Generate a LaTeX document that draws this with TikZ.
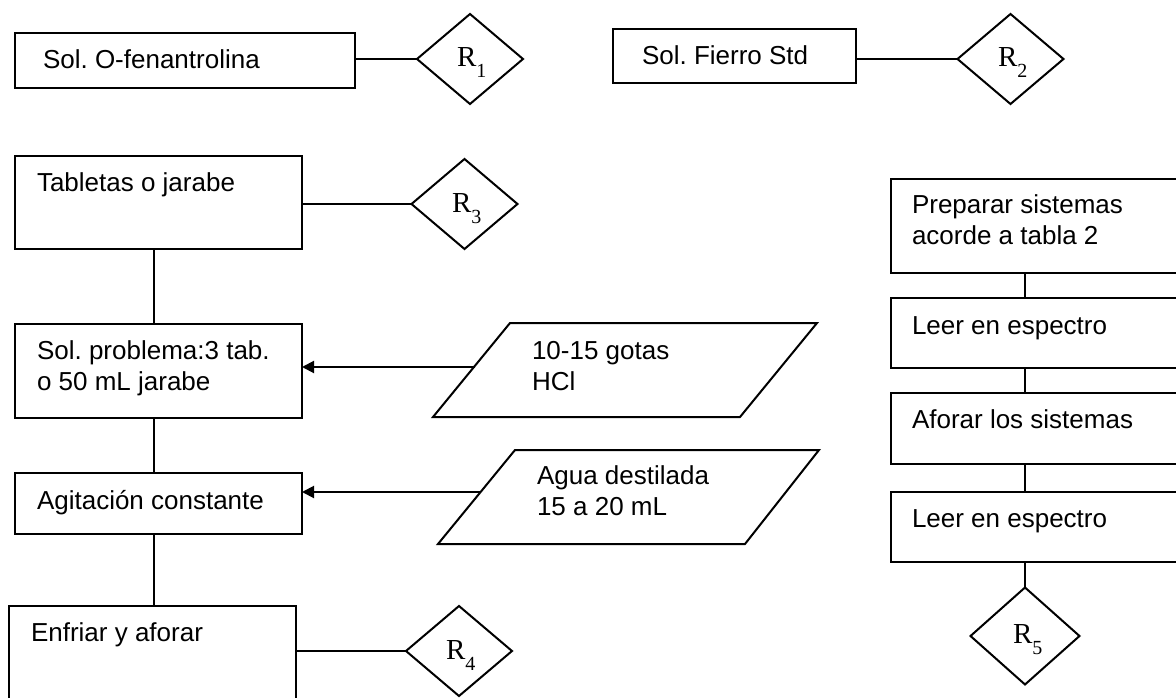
\documentclass[tikz,border=0pt]{standalone}
\usepackage{fontspec}
\setmainfont{Liberation Sans}
\newfontfamily\serifR{Liberation Serif}
\usetikzlibrary{shapes.geometric,arrows.meta}
\frenchspacing

% result marker: serif R with a lowered index
\newcommand\resmark[1]{{\serifR\fontsize{29}{29}\selectfont R\raisebox{-11pt}{\fontsize{20}{20}\selectfont #1}}}

\begin{document}
\begin{tikzpicture}[x=1pt,y=-1pt,
  every node/.style={inner sep=0pt,outer sep=0pt},
  box/.style={draw,rectangle,line width=2pt},
  txt/.style={anchor=base west,font=\fontsize{26}{31}\selectfont,align=left},
  decision/.style={draw,diamond,line width=2pt,minimum width=106pt,minimum height=90pt},
  link/.style={line width=2pt},
  feed/.style={line width=2pt,-{Triangle[length=12pt,width=12pt]}},
  io/.style={line width=2pt,line join=miter}]

\useasboundingbox (0,0) rectangle (1176,698);
\fill[white] (0,0) rectangle (1176,698);
\clip (0,0) rectangle (1176,698);

% column guides for the vertical connectors
\coordinate (colL) at (154,0);
\coordinate (colR) at (1025,0);

% top row: reagent solutions
\node[box,minimum width=340pt,minimum height=55pt] (b1) at (185,60.5) {};
\node[txt] (t1) at (43,69) {Sol. O-fenantrolina};
\node[decision] (r1) at (470,59) {};
\node[anchor=base west] (m1) at (457,67) {\resmark{1}};
\draw[link] (r1.west -| b1.east) -- (r1.west);

\node[box,minimum width=243pt,minimum height=54pt] (b2) at (734.5,56) {};
\node[txt] (t2) at (642,65) {Sol. Fierro Std};
\node[decision] (r2) at (1010.5,59) {};
\node[anchor=base west] (m2) at (998,67) {\resmark{2}};
\draw[link] (r2.west -| b2.east) -- (r2.west);

% left column: sample treatment
\node[box,minimum width=287pt,minimum height=93pt] (b3) at (158.5,202.5) {};
\node[txt] (t3) at (37,192) {Tabletas o jarabe};
\node[decision] (r3) at (464.5,204) {};
\node[anchor=base west] (m3) at (452,212) {\resmark{3}};
\draw[link] (r3.west -| b3.east) -- (r3.west);

% two-line texts are placed by the baseline of their last line
\node[box,minimum width=287pt,minimum height=94pt] (b4) at (158.5,371) {};
\node[txt] (t4) at (37,390) {Sol. problema:3 tab.\\o 50 mL jarabe};

\node[box,minimum width=287pt,minimum height=61pt] (b5) at (158.5,503.5) {};
\node[txt] (t5) at (37,509) {Agitación constante};

\node[box,minimum width=287pt,minimum height=119pt] (b6) at (152.5,665.5) {};
\node[txt] (t6) at (31,641) {Enfriar y aforar};
\node[decision] (r4) at (459,651) {};
\node[anchor=base west] (m4) at (446,659) {\resmark{4}};
\draw[link] (r4.west -| b6.east) -- (r4.west);

\draw[link] (colL |- b3.south) -- (colL |- b4.north);
\draw[link] (colL |- b4.south) -- (colL |- b5.north);
\draw[link] (colL |- b5.south) -- (colL |- b6.north);

% inputs added to the sample
\draw[io] (510,323) -- (817,323) -- (740,417) -- (433,417) -- cycle;
\node[txt] (p1) at (532,390) {10-15 gotas\\HCl};
\coordinate (p1in) at (475,367);
\draw[feed] (p1in) -- (p1in -| b4.east);

\draw[io] (515,450) -- (819,450) -- (745,544) -- (438,544) -- cycle;
\node[txt] (p2) at (537,515) {Agua destilada\\15 a 20 mL};
\coordinate (p2in) at (480,492);
\draw[feed] (p2in) -- (p2in -| b5.east);

% right column: calibration systems
\node[box,minimum width=299pt,minimum height=94pt] (c1) at (1040.5,226) {};
\node[txt] (u1) at (912,244) {Preparar sistemas\\acorde a tabla 2};
\node[box,minimum width=299pt,minimum height=70pt] (c2) at (1040.5,333) {};
\node[txt] (u2) at (912,334) {Leer en espectro};
\node[box,minimum width=299pt,minimum height=71pt] (c3) at (1040.5,428.5) {};
\node[txt] (u3) at (912,428) {Aforar los sistemas};
\node[box,minimum width=299pt,minimum height=70pt] (c4) at (1040.5,527) {};
\node[txt] (u4) at (912,527) {Leer en espectro};
\node[decision,minimum width=109pt,minimum height=97pt] (r5) at (1025,636) {};
\node[anchor=base west] (m5) at (1013,643) {\resmark{5}};

\draw[link] (colR |- c1.south) -- (colR |- c2.north);
\draw[link] (colR |- c2.south) -- (colR |- c3.north);
\draw[link] (colR |- c3.south) -- (colR |- c4.north);
\draw[link] (colR |- c4.south) -- (r5.north);
\end{tikzpicture}
\end{document}
